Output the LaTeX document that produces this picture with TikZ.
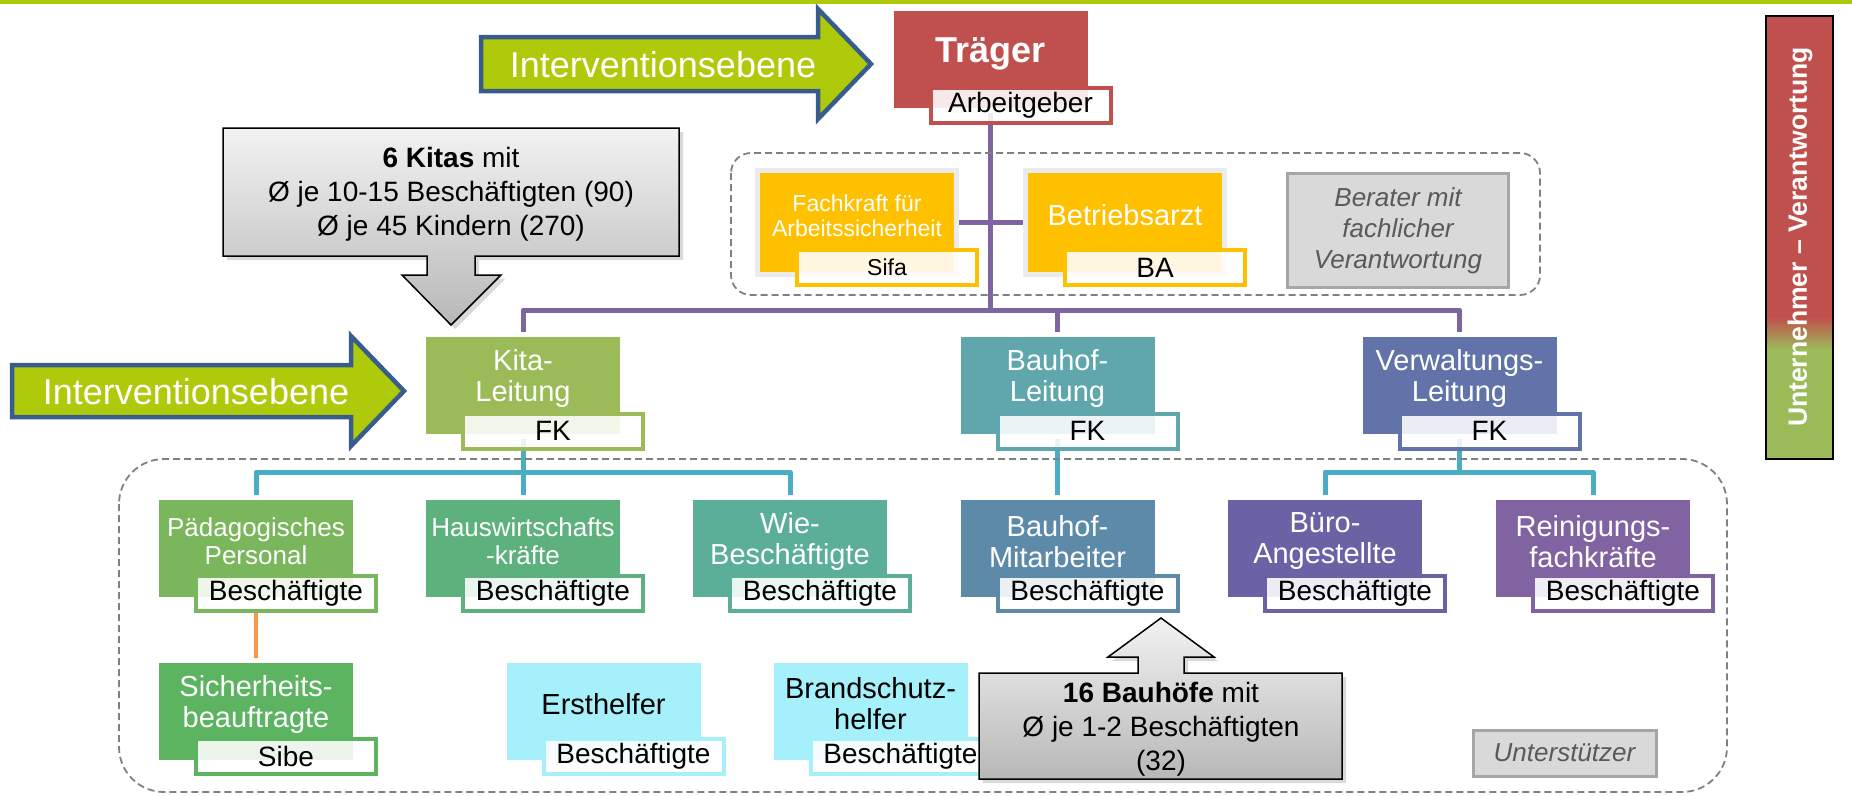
\documentclass[tikz,border=0pt]{standalone}
\usepackage{fontspec}
\setmainfont{Liberation Sans}
\usetikzlibrary{shadows,backgrounds}

\definecolor{lime}{HTML}{AFCA0B}
\definecolor{arrowblue}{HTML}{385D8A}
\definecolor{traegerred}{HTML}{C0504D}
\definecolor{lilac}{HTML}{8064A2}
\definecolor{amber}{HTML}{FFC000}
\definecolor{kitagreen}{HTML}{9BBB59}
\definecolor{bauhofteal}{HTML}{5FA7AC}
\definecolor{verwblue}{HTML}{6173A8}
\definecolor{linecyan}{HTML}{4BACC6}
\definecolor{paedgreen}{HTML}{79B65C}
\definecolor{hausgreen}{HTML}{5DB17D}
\definecolor{wiegreen}{HTML}{5BAF98}
\definecolor{mitblue}{HTML}{5E8AAA}
\definecolor{bueroviolet}{HTML}{6B62A6}
\definecolor{reinviolet}{HTML}{8063A0}
\definecolor{sibegreen}{HTML}{5CB460}
\definecolor{helpercyan}{HTML}{A5F0FA}
\definecolor{lineorange}{HTML}{F79646}
\definecolor{textgray}{HTML}{595959}

\tikzset{
	orgbox/.style={rectangle, draw=white, line width=5pt, fill=#1,
		minimum width=199pt, minimum height=102pt},
	advbox/.style={orgbox=amber, draw=black!8, minimum height=104pt},
	orgtitle/.style={text=white, align=center, inner sep=0pt,
		font=\fontsize{29}{31}\selectfont},
	orgsub/.style={rectangle, draw=#1, line width=4pt, fill=white,
		fill opacity=0.88, text opacity=1, inner sep=0pt,
		minimum width=180pt, minimum height=35pt,
		font=\fontsize{28}{30}\selectfont},
	orgline/.style={draw=#1, line width=5pt, line join=round},
	ivarrow/.style={fill=lime, draw=arrowblue, line width=4.5pt, line join=miter},
	ivtext/.style={text=white, font=\fontsize{36}{40}\selectfont},
	grpframe/.style={draw=black!50, line width=1.8pt, dash pattern=on 7pt off 4pt},
	notebox/.style={rectangle, draw=black!35, fill=black!15, line width=3pt,
		text=textgray, align=center, font=\itshape\fontsize{26}{31}\selectfont},
	calloutbox/.style={draw=black, line width=1.5pt, top color=black!5,
		bottom color=black!28, drop shadow={opacity=0.3, shadow xshift=4pt,
		shadow yshift=-4pt}},
	calltext/.style={align=center, font=\fontsize{28}{34}\selectfont}
}

\begin{document}
\begin{tikzpicture}[x=1pt,y=-1pt]
	\useasboundingbox (0,0) rectangle (1852,795);
	\fill[lime] (0,0) rectangle (1852,4);

	% Rahmen
	\draw[grpframe, rounded corners=20pt] (731,153) rectangle (1540,295);
	\draw[grpframe, rounded corners=45pt] (119,459) rectangle (1727,792);

	% Traeger
	\node[orgbox=traegerred] (traeger) at (990.5,59.5) {};
	\node[orgtitle, font=\bfseries\fontsize{36}{40}\selectfont] (traegert)
		at ([yshift=6pt]traeger.center) {Träger};
	\node[orgsub=traegerred] (traegerb) at ([shift={(30,45.5)}]traeger.center) {Arbeitgeber};

	% Berater
	\node[advbox] (sifa) at (857,222.5) {};
	\node[orgtitle, font=\fontsize{23}{25}\selectfont] (sifat)
		at ([yshift=7pt]sifa.center) {Fachkraft für\\Arbeitssicherheit};
	\node[orgsub=amber, font=\fontsize{23}{25}\selectfont] (sifab)
		at ([shift={(30,45)}]sifa.center) {Sifa};
	\node[advbox] (ba) at (1125,222.5) {};
	\node[orgtitle] (bat) at ([yshift=7pt]ba.center) {Betriebsarzt};
	\node[orgsub=amber] (bab) at ([shift={(30,45)}]ba.center) {BA};
	\node[notebox, minimum width=221pt, minimum height=114pt] (berater)
		at (1398,230.5) {Berater mit\\fachlicher\\Verantwortung};

	% Leitungen
	\node[orgbox=kitagreen] (kita) at (523,385.5) {};
	\node[orgtitle] (kitat) at ([yshift=7pt]kita.center) {Kita-\\Leitung};
	\node[orgsub=kitagreen] (kitab) at ([shift={(30,45.5)}]kita.center) {FK};
	\node[orgbox=bauhofteal] (bauhof) at (1057.5,385.5) {};
	\node[orgtitle] (bauhoft) at ([yshift=7pt]bauhof.center) {Bauhof-\\Leitung};
	\node[orgsub=bauhofteal] (bauhofb) at ([shift={(30,45.5)}]bauhof.center) {FK};
	\node[orgbox=verwblue] (verw) at (1459.5,385.5) {};
	\node[orgtitle] (verwt) at ([yshift=7pt]verw.center) {Verwaltungs-\\Leitung};
	\node[orgsub=verwblue] (verwb) at ([shift={(30,45.5)}]verw.center) {FK};

	% Beschaeftigte
	\node[orgbox=paedgreen] (paed) at (256,548.5) {};
	\node[orgtitle, font=\fontsize{26}{28}\selectfont] (paedt)
		at ([yshift=7pt]paed.center) {Pädagogisches\\Personal};
	\node[orgsub=paedgreen] (paedb) at ([shift={(30,45)}]paed.center) {Beschäftigte};
	\node[orgbox=hausgreen] (haus) at (523,548.5) {};
	\node[orgtitle, font=\fontsize{26}{28}\selectfont] (haust)
		at ([yshift=7pt]haus.center) {Hauswirtschafts\\-kräfte};
	\node[orgsub=hausgreen] (hausb) at ([shift={(30,45)}]haus.center) {Beschäftigte};
	\node[orgbox=wiegreen] (wie) at (790,548.5) {};
	\node[orgtitle] (wiet) at ([yshift=7pt]wie.center) {Wie-\\Beschäftigte};
	\node[orgsub=wiegreen] (wieb) at ([shift={(30,45)}]wie.center) {Beschäftigte};
	\node[orgbox=mitblue] (bauhofm) at (1057.5,548.5) {};
	\node[orgtitle] (bauhofmt) at ([yshift=7pt]bauhofm.center) {Bauhof-\\Mitarbeiter};
	\node[orgsub=mitblue] (bauhofmb) at ([shift={(30,45)}]bauhofm.center) {Beschäftigte};
	\node[orgbox=bueroviolet] (buero) at (1325,548.5) {};
	\node[orgtitle] (buerot) at ([yshift=7pt]buero.center) {Büro-\\Angestellte};
	\node[orgsub=bueroviolet] (buerob) at ([shift={(30,45)}]buero.center) {Beschäftigte};
	\node[orgbox=reinviolet] (rein) at (1593,548.5) {};
	\node[orgtitle] (reint) at ([yshift=7pt]rein.center) {Reinigungs-\\fachkräfte};
	\node[orgsub=reinviolet] (reinb) at ([shift={(30,45)}]rein.center) {Beschäftigte};

	% Unterstuetzer
	\node[orgbox=sibegreen] (sibe) at (256,711) {};
	\node[orgtitle] (sibet) at ([yshift=7pt]sibe.center) {Sicherheits-\\beauftragte};
	\node[orgsub=sibegreen] (sibeb) at ([shift={(30,45)}]sibe.center) {Sibe};
	\node[orgbox=helpercyan] (ersth) at (603.5,711) {};
	\node[orgtitle, text=black] (ersttht) at ([yshift=7pt]ersth.center) {Ersthelfer};
	\node[orgsub=helpercyan] (ersthb) at ([shift={(30,45)}]ersth.center) {Beschäftigte};
	\node[orgbox=helpercyan] (brand) at (870.5,711) {};
	\node[orgtitle, text=black] (brandt) at ([yshift=7pt]brand.center) {Brandschutz-\\helfer};
	\node[orgsub=helpercyan] (brandb) at ([shift={(30,45)}]brand.center) {Beschäftigte};
	\node[notebox, minimum width=183pt, minimum height=46pt] (unterst)
		at (1564.5,753) {Unterstützer};

	% Verbindungen
	\begin{scope}[on background layer]
		\coordinate (bus1) at (990.5,310);
		\coordinate (bus2) at (523,472);
		\coordinate (bus3) at (1459.5,472);
		\draw[orgline=lilac] (traeger.south) -- (bus1);
		\draw[orgline=lilac] (kita.north) |- (bus1) -| (verw.north);
		\draw[orgline=lilac] (bauhof.north) -- (bauhof.north |- bus1);
		\draw[orgline=lilac] (sifa.east) -- (ba.west);
		\draw[orgline=linecyan] (kita.south) -- (bus2);
		\draw[orgline=linecyan] (paed.north) |- (bus2) -| (wie.north);
		\draw[orgline=linecyan] (haus.north) -- (bus2);
		\draw[orgline=linecyan] (bauhof.south) -- (bauhofm.north);
		\draw[orgline=linecyan] (verw.south) -- (bus3);
		\draw[orgline=linecyan] (buero.north) |- (bus3) -| (rein.north);
		\draw[orgline=lineorange, line width=4pt] (paedb.south -| paed.south) -- (sibe.north);
	\end{scope}

	% Hinweise
	\draw[calloutbox] (223,128) -- (679,128) -- (679,256) -- (475,256) -- (475,275)
		-- (501,275) -- (451,325) -- (402,275) -- (427,275) -- (427,256) -- (223,256) -- cycle;
	\node[calltext] (kitas) at (451,194)
		{\textbf{6 Kitas} mit\\Ø je 10-15 Beschäftigten (90)\\Ø je 45 Kindern (270)};
	\draw[calloutbox] (979,673) -- (1138,673) -- (1138,657) -- (1108,657) -- (1161,618)
		-- (1214,657) -- (1184,657) -- (1184,673) -- (1342,673) -- (1342,779) -- (979,779) -- cycle;
	\node[calltext] (bauhoefe) at (1161,729)
		{\textbf{16 Bauhöfe} mit\\Ø je 1-2 Beschäftigten\\(32)};

	% Interventionsebenen
	\draw[ivarrow] (481,37) -- (818,37) -- (818,9) -- (871,64) -- (818,119) -- (818,91)
		-- (481,91) -- cycle;
	\node[ivtext] (iv1) at (663,65) {Interventionsebene};
	\draw[ivarrow] (12,365) -- (351,365) -- (351,336) -- (404,391) -- (351,446) -- (351,417)
		-- (12,417) -- cycle;
	\node[ivtext] (iv2) at (196,392) {Interventionsebene};

	% Verantwortung
	\fill[traegerred] (1766,16) rectangle (1833,318);
	\shade[top color=traegerred, bottom color=kitagreen] (1766,317) rectangle (1833,350);
	\fill[kitagreen] (1766,349) rectangle (1833,459);
	\draw[line width=2.5pt] (1766,16) rectangle (1833,459);
	\node[rotate=90, text=white, font=\bfseries\fontsize{26.5}{30}\selectfont] (verantw)
		at (1800,237) {Unternehmer – Verantwortung};
\end{tikzpicture}
\end{document}
